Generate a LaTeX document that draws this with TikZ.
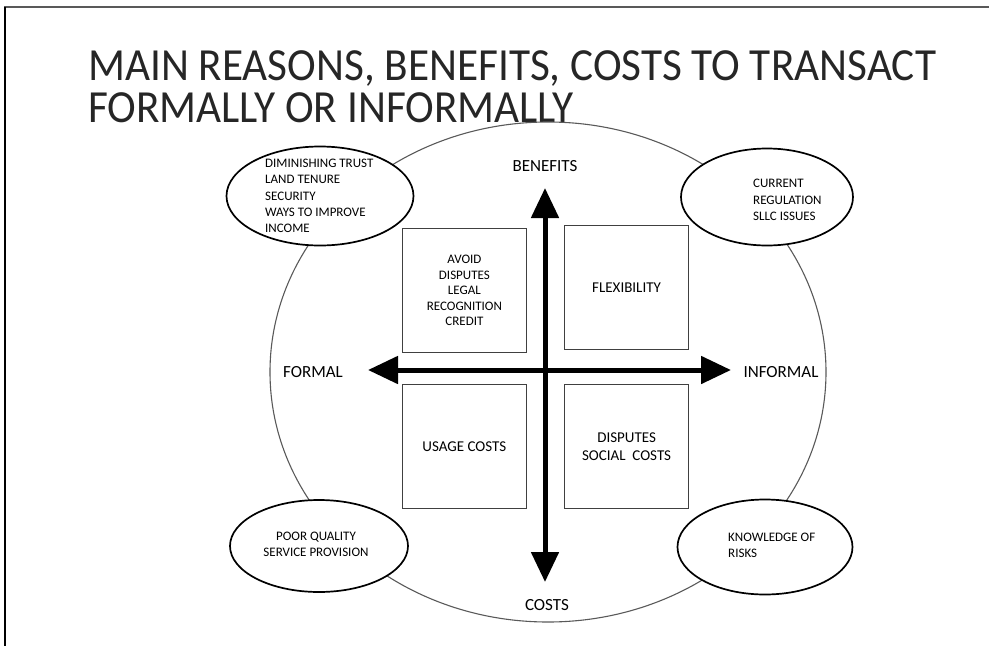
\documentclass[tikz,border=0pt]{standalone}
\usepackage{fontspec}
\setmainfont{Carlito}
\newfontfamily\headfont[FakeStretch=0.94]{Carlito}
\usetikzlibrary{positioning, shapes.geometric, arrows.meta}

\begin{document}
\begin{tikzpicture}[
    x=1pt, y=-1pt,
    heading/.style={anchor=base west, inner sep=0pt, text=black!85, font=\headfont\fontsize{46}{46}\selectfont},
    ring/.style={ellipse, draw=black!65, line width=1.1pt, inner sep=0pt},
    reason/.style={ellipse, draw, line width=1.7pt, fill=white, inner sep=0pt},
    note/.style={inner sep=0pt, align=left, font=\fontsize{13}{16.3}\selectfont},
    quadrant/.style={rectangle, draw=black!75, line width=1.2pt, minimum size=124pt,
        inner sep=0pt, align=center, font=\fontsize{15}{18}\selectfont},
    axislabel/.style={inner sep=0pt, font=\fontsize{17}{19}\selectfont},
    axis/.style={line width=5pt, {Triangle[length=30pt,width=27pt]}-{Triangle[length=30pt,width=27pt]}}
]
\useasboundingbox (0,0) rectangle (989,646);

% page frame
\draw[black!65, line width=2pt] (4,7) -- (989,7);
\draw[line width=2pt] (4.5,7) -- (4.5,646);

% title
\node[heading] (title1) at (88,80) {MAIN REASONS, BENEFITS, COSTS TO TRANSACT};
\node[heading] (title2) at (88,122) {FORMALLY OR INFORMALLY};

% outer ring
\node[ring, minimum width=556pt, minimum height=500pt] (outer) at (548,372) {};

% axes
\coordinate (c) at (545,370);
\coordinate (up) at (545,188);
\coordinate (down) at (545,582);
\coordinate (west) at (368,370);
\coordinate (east) at (731,370);
\draw[axis] (down) -- (up);
\draw[axis] (west) -- (east);

\node[axislabel] (benefits) at (545,166) {BENEFITS};
\node[axislabel] (costs) at (547,605) {COSTS};
\node[axislabel] (formal) at (313,372) {FORMAL};
\node[axislabel] (informal) at (781,372) {INFORMAL};

% quadrants
\node[quadrant, above left=17pt and 18pt of c, font=\fontsize{13}{15.5}\selectfont] (q1) {AVOID\\DISPUTES\\LEGAL\\RECOGNITION\\CREDIT};
\node[quadrant, above right=20pt and 19pt of c] (q2) {FLEXIBILITY};
\node[quadrant, below left=14pt and 18pt of c] (q3) {USAGE COSTS};
\node[quadrant, below right=14pt and 19pt of c] (q4) {DISPUTES\\SOCIAL\ \ COSTS};

% reasons around the ring
\node[reason, minimum width=187pt, minimum height=99pt] (trust) at (320,196) {};
\node[note, anchor=west] (trusttext) at (265,196) {DIMINISHING TRUST\\LAND TENURE\\SECURITY\\WAYS TO IMPROVE\\INCOME};

\node[reason, minimum width=172pt, minimum height=97pt] (regulation) at (767,197) {};
\node[note, anchor=west] (regulationtext) at (753,200) {CURRENT\\REGULATION\\SLLC ISSUES};

\node[reason, minimum width=178pt, minimum height=92pt] (service) at (319,546) {};
\node[note, align=center] (servicetext) at (316,544) {POOR QUALITY\\SERVICE PROVISION};

\node[reason, minimum width=175pt, minimum height=95pt] (risks) at (765,547) {};
\node[note, anchor=west] (riskstext) at (728,545) {KNOWLEDGE OF\\RISKS};

\end{tikzpicture}
\end{document}
